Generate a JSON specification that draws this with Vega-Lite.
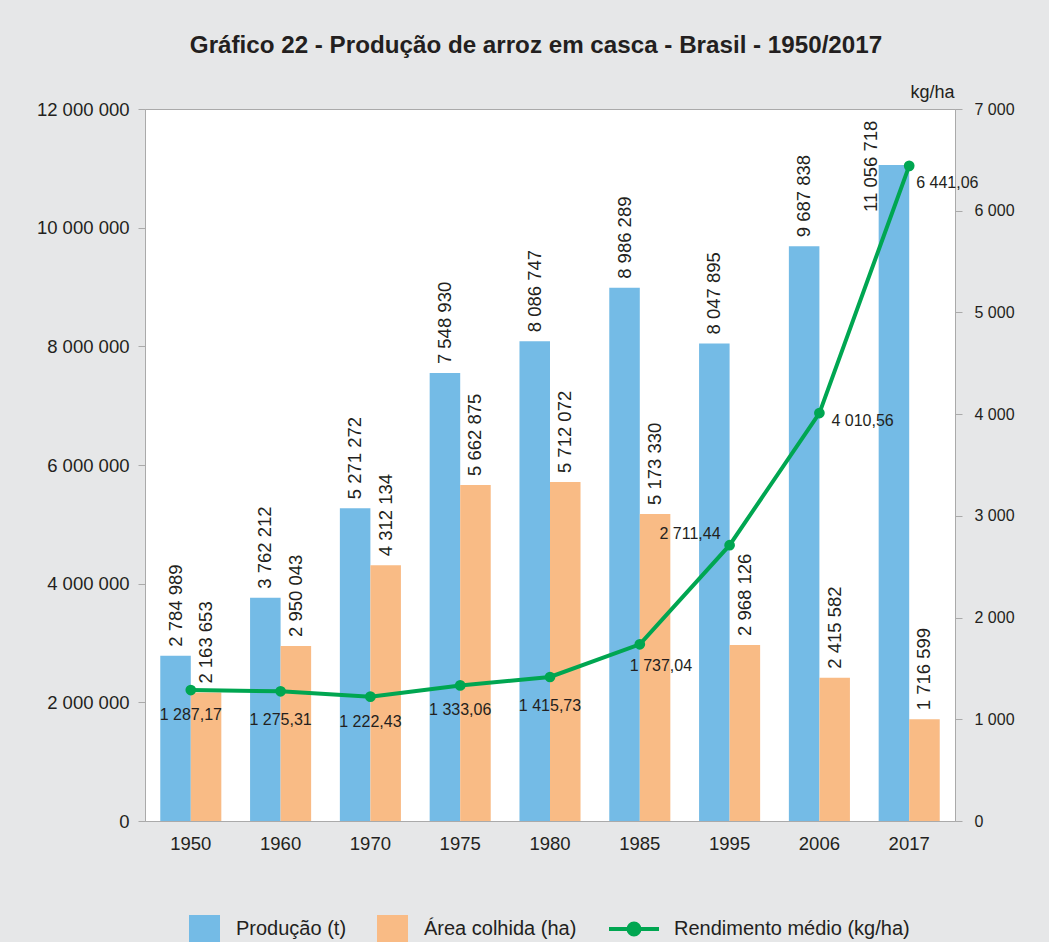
{
  "$schema": "https://vega.github.io/schema/vega-lite/v6.json",
  "width": 810,
  "height": 712,
  "autosize": {"type": "none"},
  "padding": {"left": 145, "top": 109, "right": 94, "bottom": 121},
  "background": "#e6e7e8",
  "title": {
    "text": "Gráfico 22 - Produção de arroz em casca - Brasil - 1950/2017",
    "anchor": "middle",
    "frame": "group",
    "fontSize": 24.2,
    "fontWeight": "bold",
    "font": "Liberation Sans",
    "color": "#231f20",
    "dx": -14,
    "offset": 6,
    "baseline": "alphabetic"
  },
  "datasets": {
    "barras": [
      {"ano": "1950", "serie": "Produção (t)", "valor": 2784989},
      {"ano": "1950", "serie": "Área colhida (ha)", "valor": 2163653},
      {"ano": "1960", "serie": "Produção (t)", "valor": 3762212},
      {"ano": "1960", "serie": "Área colhida (ha)", "valor": 2950043},
      {"ano": "1970", "serie": "Produção (t)", "valor": 5271272},
      {"ano": "1970", "serie": "Área colhida (ha)", "valor": 4312134},
      {"ano": "1975", "serie": "Produção (t)", "valor": 7548930},
      {"ano": "1975", "serie": "Área colhida (ha)", "valor": 5662875},
      {"ano": "1980", "serie": "Produção (t)", "valor": 8086747},
      {"ano": "1980", "serie": "Área colhida (ha)", "valor": 5712072},
      {"ano": "1985", "serie": "Produção (t)", "valor": 8986289},
      {"ano": "1985", "serie": "Área colhida (ha)", "valor": 5173330},
      {"ano": "1995", "serie": "Produção (t)", "valor": 8047895},
      {"ano": "1995", "serie": "Área colhida (ha)", "valor": 2968126},
      {"ano": "2006", "serie": "Produção (t)", "valor": 9687838},
      {"ano": "2006", "serie": "Área colhida (ha)", "valor": 2415582},
      {"ano": "2017", "serie": "Produção (t)", "valor": 11056718},
      {"ano": "2017", "serie": "Área colhida (ha)", "valor": 1716599}
    ],
    "rendimento": [
      {"ano": "1950", "valor": 1287.17},
      {"ano": "1960", "valor": 1275.31},
      {"ano": "1970", "valor": 1222.43},
      {"ano": "1975", "valor": 1333.06},
      {"ano": "1980", "valor": 1415.73},
      {"ano": "1985", "valor": 1737.04},
      {"ano": "1995", "valor": 2711.44},
      {"ano": "2006", "valor": 4010.56},
      {"ano": "2017", "valor": 6441.06}
    ]
  },
  "layer": [
    {
      "data": {"name": "barras"},
      "encoding": {
        "x": {
          "field": "ano", "type": "nominal", "title": null,
          "scale": {"paddingInner": 0.32, "paddingOuter": 0.17},
          "axis": {"labelAngle": 0, "ticks": false, "tickSize": 0, "labelPadding": 13, "labelFontSize": 18.5, "domainColor": "#aaaaaa"}
        },
        "xOffset": {
          "field": "serie", "type": "nominal",
          "scale": {"domain": ["Produção (t)", "Área colhida (ha)"], "paddingInner": 0, "paddingOuter": 0}
        },
        "y": {
          "field": "valor", "type": "quantitative", "title": null,
          "scale": {"domain": [0, 12000000], "nice": false},
          "axis": {"values": [0, 2000000, 4000000, 6000000, 8000000, 10000000, 12000000], "format": ",d", "labelFontSize": 18.5, "tickSize": 7, "labelPadding": 9, "grid": false}
        }
      },
      "layer": [
        {
          "mark": {"type": "bar"},
          "encoding": {
            "fill": {
              "field": "serie", "type": "nominal",
              "scale": {"domain": ["Produção (t)", "Área colhida (ha)"], "range": ["#74bbe6", "#f9bb85"]},
              "legend": {
                "orient": "none", "legendX": 44, "legendY": 804, "title": null, "direction": "horizontal",
                "symbolType": "M-1,-0.87H1V0.87H-1Z", "symbolSize": 961, "symbolStrokeWidth": 0,
                "labelFontSize": 20, "labelOffset": 16, "columnPadding": 30, "padding": 0
              }
            }
          }
        },
        {
          "transform": [{"filter": "!(datum.ano === '2017' && datum.serie === 'Produção (t)')"}],
          "mark": {"type": "text", "angle": 270, "align": "left", "baseline": "middle", "dx": 9, "fontSize": 18.5, "color": "#231f20"},
          "encoding": {"text": {"field": "valor", "type": "quantitative", "format": ",d"}}
        },
        {
          "transform": [{"filter": "datum.ano === '2017' && datum.serie === 'Produção (t)'"}],
          "mark": {"type": "text", "angle": 270, "align": "left", "baseline": "middle", "dx": -47, "dy": -23, "fontSize": 18.5, "color": "#231f20"},
          "encoding": {"text": {"field": "valor", "type": "quantitative", "format": ",d"}}
        }
      ]
    },
    {
      "data": {"name": "rendimento"},
      "encoding": {
        "x": {"field": "ano", "type": "nominal", "title": null},
        "y": {
          "field": "valor", "type": "quantitative",
          "scale": {"domain": [0, 7000], "nice": false},
          "axis": {
            "orient": "right", "values": [0, 1000, 2000, 3000, 4000, 5000, 6000, 7000], "format": ",d",
            "labelFontSize": 16, "tickSize": 7, "labelPadding": 12, "grid": false,
            "title": "kg/ha", "titleAngle": 0, "titleX": -23, "titleY": -17, "titleAlign": "center", "titleBaseline": "middle",
            "titleFontSize": 18, "titleFontWeight": "normal", "titleColor": "#231f20"
          }
        }
      },
      "layer": [
        {
          "mark": {"type": "line", "strokeWidth": 4, "point": {"filled": true, "size": 115}},
          "encoding": {
            "color": {
              "datum": "Rendimento médio (kg/ha)",
              "scale": {"range": ["#00a651"]},
              "legend": {
                "orient": "none", "legendX": 462, "legendY": 793, "title": null,
                "symbolType": "M-1,0H1M0.22,0A0.22,0.22,0,1,1,-0.22,0A0.22,0.22,0,1,1,0.22,0Z",
                "symbolSize": 2500, "symbolStrokeWidth": 4,
                "labelFontSize": 20, "labelOffset": 13, "labelLimit": 400, "padding": 0,
                "encode": {"symbols": {"update": {"fill": {"value": "#00a651"}, "stroke": {"value": "#00a651"}, "strokeWidth": {"value": 4}}}}
              }
            }
          }
        },
        {
          "transform": [{"filter": "indexof(['1950','1970','1975'], datum.ano) >= 0"}],
          "mark": {"type": "text", "align": "center", "baseline": "middle", "dy": 25, "fontSize": 16, "color": "#231f20"},
          "encoding": {"text": {"field": "valor", "type": "quantitative", "format": ",.2f"}}
        },
        {
          "transform": [{"filter": "indexof(['1960','1980'], datum.ano) >= 0"}],
          "mark": {"type": "text", "align": "center", "baseline": "middle", "dy": 29, "fontSize": 16, "color": "#231f20"},
          "encoding": {"text": {"field": "valor", "type": "quantitative", "format": ",.2f"}}
        },
        {
          "transform": [{"filter": "datum.ano === '1985'"}],
          "mark": {"type": "text", "align": "left", "baseline": "middle", "dx": -10, "dy": 22, "fontSize": 16, "color": "#231f20"},
          "encoding": {"text": {"field": "valor", "type": "quantitative", "format": ",.2f"}}
        },
        {
          "transform": [{"filter": "datum.ano === '1995'"}],
          "mark": {"type": "text", "align": "right", "baseline": "middle", "dx": -9, "dy": -11, "fontSize": 16, "color": "#231f20"},
          "encoding": {"text": {"field": "valor", "type": "quantitative", "format": ",.2f"}}
        },
        {
          "transform": [{"filter": "datum.ano === '2006'"}],
          "mark": {"type": "text", "align": "left", "baseline": "middle", "dx": 12, "dy": 8, "fontSize": 16, "color": "#231f20"},
          "encoding": {"text": {"field": "valor", "type": "quantitative", "format": ",.2f"}}
        },
        {
          "transform": [{"filter": "datum.ano === '2017'"}],
          "mark": {"type": "text", "align": "left", "baseline": "middle", "dx": 7, "dy": 17, "fontSize": 16, "color": "#231f20"},
          "encoding": {"text": {"field": "valor", "type": "quantitative", "format": ",.2f"}}
        }
      ]
    }
  ],
  "resolve": {"scale": {"y": "independent"}},
  "config": {
    "font": "Liberation Sans",
    "view": {"stroke": "#aaaaaa", "fill": "white"},
    "axis": {"labelColor": "#231f20", "domainColor": "#aaaaaa", "tickColor": "#aaaaaa", "grid": false},
    "legend": {"labelColor": "#231f20"},
    "locale": {
      "number": {"decimal": ",", "thousands": " ", "grouping": [3], "currency": ["R$ ", ""]}
    }
  }
}
